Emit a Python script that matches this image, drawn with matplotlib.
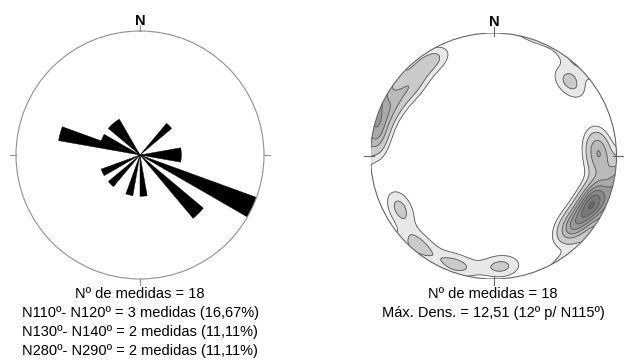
import numpy as np
import matplotlib
matplotlib.use("Agg")
import matplotlib.pyplot as plt
from matplotlib.patches import Circle

plt.rcParams['font.family'] = ['Liberation Sans', 'DejaVu Sans']

# Rose diagram: 10-degree azimuth classes (start of class) and number of measurements
rose_bin_start = [40, 80, 90, 110, 130, 170, 190, 220, 240, 280, 290, 310, 320]
rose_counts = [1, 1, 1, 3, 2, 1, 1, 1, 1, 2, 1, 1, 1]
rose_bin_width = 10

# Stereonet: poles (trend, plunge) in degrees, lower hemisphere
pole_trend = [113, 115, 117, 129, 133, 84, 92, 46, 176, 199, 220, 241,
              278, 286, 297, 311, 327]
pole_plunge = [12, 11, 13, 16, 14, 17, 15, 15, 11, 7, 6, 14,
               5, 3, 9, 13, 8]

rose_text = ["Nº de medidas = 18",
             "N110º- N120º = 3 medidas (16,67%)",
             "N130º- N140º = 2 medidas (11,11%)",
             "N280º- N290º = 2 medidas (11,11%)"]
stereo_text = ["Nº de medidas = 18",
               "Máx. Dens. = 12,51 (12º p/ N115º)"]

W, H = 633, 363
fig = plt.figure(figsize=(W / 100, H / 100), dpi=100)


def rect(cx, cy, r):
    return [(cx - r) / W, 1 - (cy + r) / H, 2 * r / W, 2 * r / H]


def ftext(x, y, s, **kw):
    fig.text(x / W, 1 - y / H, s, ha='center', va='center', **kw)


# ---- Rose diagram ----
axr = fig.add_axes(rect(140, 155, 124), projection='polar')
axr.set_theta_zero_location('N')
axr.set_theta_direction(-1)
rmax = max(rose_counts)
axr.bar(np.deg2rad(rose_bin_start), rose_counts, width=np.deg2rad(rose_bin_width),
        align='edge', color='black', edgecolor='black', linewidth=0.3)
axr.set_ylim(0, rmax)
axr.set_xticks([])
axr.set_yticks([])
axr.grid(False)
axr.spines['polar'].set_color('#909090')
axr.spines['polar'].set_linewidth(0.8)
for ang in [0, 90, 180, 270]:
    axr.plot([np.deg2rad(ang)] * 2, [rmax, rmax * 1.045], color='#909090',
             lw=0.8, clip_on=False)
ftext(140, 21, "N", fontsize=10.5, fontweight='bold')

# ---- Stereonet density contours ----
axs = fig.add_axes(rect(493.5, 156, 123))
axs.set_xlim(-1, 1)
axs.set_ylim(-1, 1)
axs.set_aspect('equal')
axs.axis('off')

n = 500
g = np.linspace(-1.03, 1.03, n)
X, Y = np.meshgrid(g, g)
rho = np.sqrt(X ** 2 + Y ** 2)
c = 2 * np.arcsin(np.clip(rho / np.sqrt(2), 0, 1))
t = np.arctan2(X, Y)
v = np.stack([np.sin(c) * np.sin(t), np.sin(c) * np.cos(t), -np.cos(c)])

tr = np.deg2rad(pole_trend)
pl = np.deg2rad(pole_plunge)
P = np.stack([np.cos(pl) * np.sin(tr), np.cos(pl) * np.cos(tr), -np.sin(pl)])

kappa = 50.0
dots = np.abs(np.tensordot(P.T, v, axes=(1, 0)))
dens = np.exp(kappa * (dots - 1)).sum(axis=0)

levels = [0.55, 0.9, 1.4, 1.8, 2.2, 2.6, 3.0, 3.4, 20]
fills = ['#e8e8e8', '#cacaca', '#b9b9b9', '#a9a9a9', '#999999', '#898989',
         '#797979', '#696969']
clip = Circle((0, 0), 1, transform=axs.transData)
cf = axs.contourf(X, Y, dens, levels=levels, colors=fills)
cl = axs.contour(X, Y, dens, levels=levels[:-1], colors='#595959', linewidths=0.6)
cf.set_clip_path(clip)
cl.set_clip_path(clip)

axs.add_patch(Circle((0, 0), 1, fill=False, edgecolor='#666666', lw=0.8))
for ang in [0, 90, 180, 270]:
    a = np.deg2rad(ang)
    axs.plot([0.975 * np.sin(a), 1.05 * np.sin(a)],
             [0.975 * np.cos(a), 1.05 * np.cos(a)], color='#666666', lw=0.8,
             clip_on=False)
ftext(494, 22, "N", fontsize=10.5, fontweight='bold')

# ---- Captions ----
for i, s in enumerate(rose_text):
    ftext(140, 294 + 19 * i, s, fontsize=10.5)
for i, s in enumerate(stereo_text):
    ftext(493, 294 + 19 * i, s, fontsize=10.5)

fig.savefig("out.png", dpi=100, facecolor='white')
